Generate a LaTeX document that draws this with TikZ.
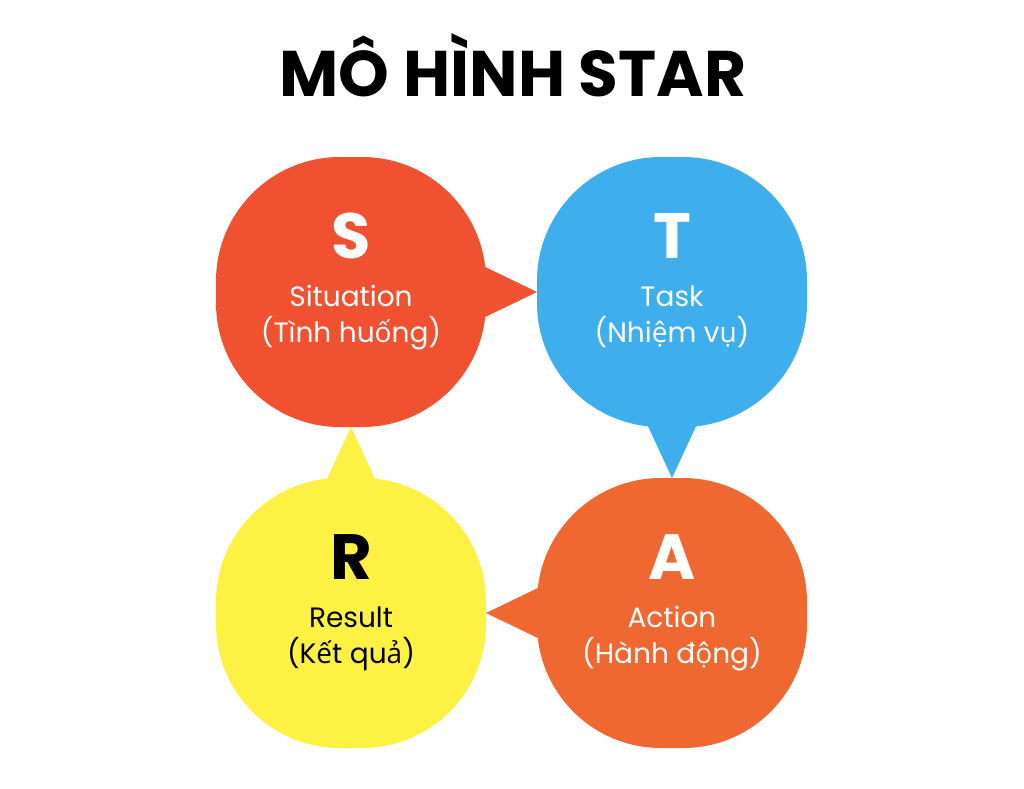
\documentclass[tikz,border=0pt]{standalone}
\usepackage{fontspec}
\setmainfont{Poppins}
\newfontfamily\vnfont{Open Sans}
\newcommand{\vn}[1]{{\vnfont #1}}
\usetikzlibrary{positioning}

\definecolor{sred}{HTML}{EF5131}
\definecolor{tblue}{HTML}{3FAEEC}
\definecolor{aorange}{HTML}{F06831}
\definecolor{ryellow}{HTML}{FDF244}

\begin{document}
\begin{tikzpicture}[x=1pt, y=1pt,
        bubble/.style={rectangle, draw=none, inner sep=0pt, outer sep=0pt,
            minimum width=270pt, minimum height=270pt, rounded corners=124pt},
        letter/.style={anchor=base, font=\fontsize{64}{64}\selectfont\bfseries},
        caption/.style={anchor=base, font=\fontsize{28}{36}\selectfont}
        ]
    \useasboundingbox[fill=white] (0,0) rectangle (1024,-788);

    % Titel
    \node[anchor=base, font=\fontsize{64.5}{64}\selectfont\bfseries] (title) at (513,-96) {MÔ HÌNH STAR};

    % Blasen
    \node[bubble, fill=sred] (S) at (351,-292) {};
    \node[bubble, fill=tblue, right=51pt of S] (T) {};
    \node[bubble, fill=ryellow, below=51pt of S] (R) {};
    \node[bubble, fill=aorange, right=51pt of R] (A) {};

    % Spitzen
    \fill[sred]    ([xshift=-5pt, yshift=27pt]S.east) -- (T.west) -- ([xshift=-5pt, yshift=-27pt]S.east) -- cycle;
    \fill[tblue]   ([xshift=-26pt, yshift=5pt]T.south) -- (A.north) -- ([xshift=26pt, yshift=5pt]T.south) -- cycle;
    \fill[aorange] ([xshift=5pt, yshift=27pt]A.west) -- (R.east) -- ([xshift=5pt, yshift=-27pt]A.west) -- cycle;
    \fill[ryellow] ([xshift=-26pt, yshift=-5pt]R.north) -- (S.south) -- ([xshift=26pt, yshift=-5pt]R.north) -- cycle;

    % Beschriftung
    \node[letter, text=white] (S-l) at ([yshift=34pt]S.center) {S};
    \node[caption, text=white] (S-en) at ([yshift=-14pt]S.center) {Situation};
    \node[caption, text=white] (S-vi) at ([yshift=-50pt]S.center) {(Tình hu\vn{ố}ng)};

    \node[letter, text=white] (T-l) at ([yshift=34pt]T.center) {T};
    \node[caption, text=white] (T-en) at ([yshift=-14pt]T.center) {Task};
    \node[caption, text=white] (T-vi) at ([yshift=-50pt]T.center) {(Nhi\vn{ệ}m v\vn{ụ})};

    \node[letter, text=black] (R-l) at ([yshift=34pt]R.center) {R};
    \node[caption, text=black] (R-en) at ([yshift=-14pt]R.center) {Result};
    \node[caption, text=black] (R-vi) at ([yshift=-50pt]R.center) {(K\vn{ế}t qu\vn{ả})};

    \node[letter, text=white] (A-l) at ([yshift=34pt]A.center) {A};
    \node[caption, text=white] (A-en) at ([yshift=-14pt]A.center) {Action};
    \node[caption, text=white] (A-vi) at ([yshift=-50pt]A.center) {(Hành đ\vn{ộ}ng)};

\end{tikzpicture}
\end{document}
